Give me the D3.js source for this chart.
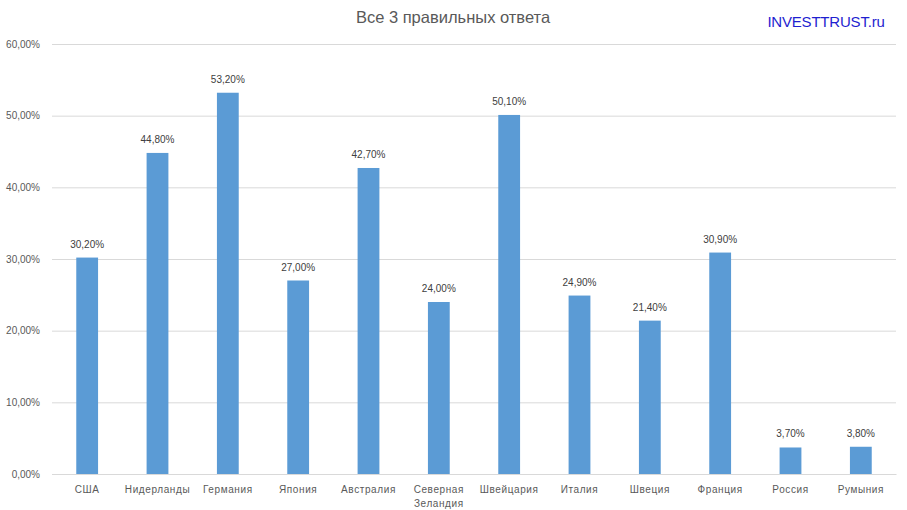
<!DOCTYPE html>
<html><head><meta charset="utf-8">
<script src="https://cdn.jsdelivr.net/npm/d3@7"></script>
<style>body{margin:0;background:#fff}text{font-family:"Liberation Sans",Arial,sans-serif}</style>
</head><body>
<svg id="c" width="907" height="510"></svg>
<script>
const categories = ["США","Нидерланды","Германия","Япония","Австралия","Северная\nЗеландия","Швейцария","Италия","Швеция","Франция","Россия","Румыния"];
const values = [30.2,44.8,53.2,27.0,42.7,24.0,50.1,24.9,21.4,30.9,3.7,3.8];
const yTicks = [0,10,20,30,40,50,60];
const title = "Все 3 правильных ответа";
const watermark = "INVESTTRUST.ru";

const svg = d3.select("#c");
const W=907,H=510, L=52, R=896, T=44, B=474;
const fmt = v => v.toFixed(2).replace(".",",")+"%";
const x = d3.scaleBand().domain(categories).range([L,R]).paddingInner(0.69).paddingOuter(0.345);
const y = d3.scaleLinear().domain([0,60]).range([B,T]);

svg.append("rect").attr("width",W).attr("height",H).attr("fill","#fff");

const ya = svg.append("g").attr("transform",`translate(${L},0)`)
  .call(d3.axisLeft(y).tickValues(yTicks).tickSize(-(R-L)).tickFormat(fmt).tickPadding(12));
ya.select(".domain").remove();
ya.selectAll(".tick line").attr("stroke","#d9d9d9").attr("stroke-width",1);
ya.selectAll(".tick text").attr("fill","#595959").attr("font-size","10px").attr("font-family","Liberation Sans, Arial, sans-serif");

svg.selectAll("rect.bar").data(values).join("rect").attr("class","bar")
  .attr("x",(d,i)=>x(categories[i])).attr("width",x.bandwidth())
  .attr("y",d=>y(d)).attr("height",d=>B-y(d)).attr("fill","#5b9bd5");

svg.selectAll("text.lbl").data(values).join("text").attr("class","lbl")
  .attr("x",(d,i)=>x(categories[i])+x.bandwidth()/2).attr("y",d=>y(d)-10)
  .attr("text-anchor","middle").attr("font-size","10px").attr("fill","#404040").text(fmt);

const xa = svg.append("g").attr("transform",`translate(0,${B})`)
  .call(d3.axisBottom(x).tickSize(0).tickFormat(""));
xa.select(".domain").attr("stroke","#d9d9d9");
xa.selectAll(".tick").each(function(d){
  const lines = d.split("\n");
  const t = d3.select(this).append("text").attr("fill","#595959").attr("font-size","10px")
    .attr("text-anchor","middle").attr("letter-spacing","0.6px").attr("font-family","Liberation Sans, Arial, sans-serif");
  lines.forEach((s,i)=>t.append("tspan").attr("x",0).attr("y",19+i*14).text(s));
});

svg.append("text").attr("x",453).attr("y",23).attr("text-anchor","middle")
  .attr("font-size","16.5px").attr("fill","#595959").attr("font-family","Open Sans, sans-serif").text(title);
svg.append("text").attr("x",826).attr("y",27).attr("text-anchor","middle")
  .attr("font-size","15px").attr("fill","#1f1fd0").attr("letter-spacing","-0.2px").text(watermark);
</script>
</body></html>
